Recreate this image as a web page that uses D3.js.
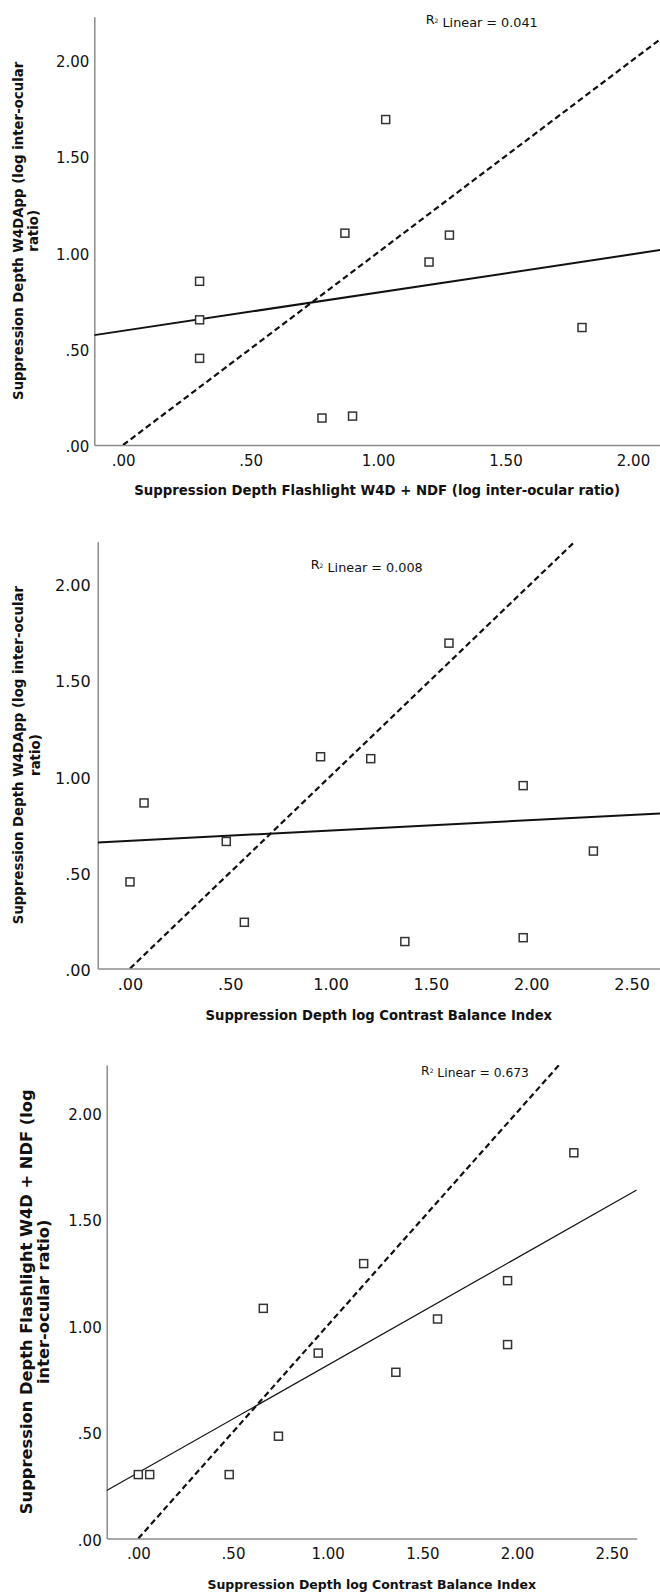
<!DOCTYPE html>
<html>
<head>
<meta charset="utf-8">
<script src="https://cdnjs.cloudflare.com/ajax/libs/d3/7.8.5/d3.min.js"></script>
<style>
body { margin: 0; background: #fff; }
svg { display: block; font-family: "DejaVu Sans", sans-serif; }
svg text { font-family: "DejaVu Sans", sans-serif; }
.axis path { stroke: #8c8c8c; stroke-width: 1.5; }
.axis text { fill: #111; }
.title { font-weight: bold; fill: #111; }
</style>
</head>
<body>
<div id="chart"></div>
<script>

// panel 1 : W4DApp vs Flashlight
var flashX = [1.03, 0.87, 1.28, 1.20, 1.80, 0.90, 0.30, 0.30, 0.30, 0.78];
var w4dY1  = [1.69, 1.10, 1.09, 0.95, 0.61, 0.15, 0.85, 0.65, 0.45, 0.14];

// panel 2 : W4DApp vs contrast balance index
var cbiX2  = [1.59, 1.20, 0.95, 0.07, 0.48, 0.00, 0.57, 1.96, 2.31, 1.37, 1.96];
var w4dY2  = [1.69, 1.09, 1.10, 0.86, 0.66, 0.45, 0.24, 0.95, 0.61, 0.14, 0.16];

// panel 3 : Flashlight vs contrast balance index
var cbiX3   = [2.30, 1.19, 1.95, 1.58, 0.66, 0.95, 0.74, 0.00, 0.06, 0.48, 1.36, 1.95];
var flashY3 = [1.81, 1.29, 1.21, 1.03, 1.08, 0.87, 0.48, 0.30, 0.30, 0.30, 0.78, 0.91];

// fit lines (intercept, slope) and R2 labels
var fitIntercept = [0.593, 0.663, 0.309];
var fitSlope     = [0.199, 0.054, 0.504];
var r2Values     = ["0.041", "0.008", "0.673"];

var xTicks1 = [0, 0.5, 1, 1.5, 2];
var xTicks2 = [0, 0.5, 1, 1.5, 2, 2.5];
var yTicks  = [0, 0.5, 1, 1.5, 2];

var xTitles = ["Suppression Depth Flashlight W4D + NDF (log inter-ocular ratio)",
               "Suppression Depth log Contrast Balance Index",
               "Suppression Depth log Contrast Balance Index"];
var yTitles = [["Suppression Depth W4DApp (log inter-ocular", "ratio)"],
               ["Suppression Depth W4DApp (log inter-ocular", "ratio)"],
               ["Suppression Depth Flashlight W4D + NDF (log", "inter-ocular ratio)"]];

// layout of each panel (pixels)
var panels = [
  {xs: flashX, ys: w4dY1, xTicks: xTicks1, left: 94.3, right: 660, top: 16.7, bottom: 445,
   xDom: [-0.113, 2.106], yMax: 2.224, tickSize: 15, xTitleSize: 13.3, yTitleSize: 13.3,
   xTitleY: 490, yTitleX: [18, 33], r2: [481.7, 20], r2Size: 12.8, fitWidth: 2, yPad: 5},
  {xs: cbiX2, ys: w4dY2, xTicks: xTicks2, left: 97.7, right: 660, top: 541.7, bottom: 968.5,
   xDom: [-0.161, 2.642], yMax: 2.217, tickSize: 16, xTitleSize: 13.2, yTitleSize: 13.3,
   xTitleY: 1015, yTitleX: [18, 35], r2: [366.7, 565], r2Size: 12.8, fitWidth: 2, yPad: 7},
  {xs: cbiX3, ys: flashY3, xTicks: xTicks2, left: 106.7, right: 636.7, top: 1065, bottom: 1538.5,
   xDom: [-0.167, 2.632], yMax: 2.222, tickSize: 15, xTitleSize: 12.5, yTitleSize: 16.3,
   xTitleY: 1585, yTitleX: [26, 43], r2: [475, 1070.7], r2Size: 12.3, fitWidth: 1.2, yPad: 5}
];

var svg = d3.select("#chart").append("svg")
    .attr("width", 660)
    .attr("height", 1593);

var fmt = function(d) { return d3.format(".2f")(d).replace(/^0\./, "."); };

panels.forEach(function(p, i) {
  var x = d3.scaleLinear().domain(p.xDom).range([p.left, p.right]);
  var y = d3.scaleLinear().domain([0, p.yMax]).range([p.bottom, p.top]);

  var g = svg.append("g");

  svg.append("clipPath").attr("id", "clip" + i)
    .append("rect")
      .attr("x", p.left).attr("y", p.top)
      .attr("width", p.right - p.left).attr("height", p.bottom - p.top);

  // axes (d3 sets a font-family attr on the axis group, drop it)
  g.append("g")
      .attr("class", "axis")
      .attr("transform", "translate(0," + p.bottom + ")")
      .call(d3.axisBottom(x).tickValues(p.xTicks).tickSize(0).tickPadding(10).tickFormat(fmt))
      .attr("font-family", null)
      .call(function(a) { a.selectAll("text").style("font-size", p.tickSize + "px"); });

  g.append("g")
      .attr("class", "axis")
      .attr("transform", "translate(" + p.left + ",0)")
      .call(d3.axisLeft(y).tickValues(yTicks).tickSize(0).tickPadding(p.yPad).tickFormat(fmt))
      .attr("font-family", null)
      .call(function(a) {
        a.selectAll("text").style("font-size", p.tickSize + "px").attr("dy", "0.45em");
      });

  var plot = g.append("g").attr("clip-path", "url(#clip" + i + ")");

  // reference line y = x
  plot.append("path")
      .datum([0, p.yMax])
      .attr("fill", "none")
      .attr("stroke", "#111")
      .attr("stroke-width", 2.2)
      .attr("stroke-dasharray", "6,3.5")
      .attr("d", d3.line().x(function(d) { return x(d); }).y(function(d) { return y(d); }));

  // fit line
  plot.append("path")
      .datum(p.xDom)
      .attr("fill", "none")
      .attr("stroke", "#111")
      .attr("stroke-width", p.fitWidth)
      .attr("d", d3.line()
        .x(function(d) { return x(d); })
        .y(function(d) { return y(fitIntercept[i] + fitSlope[i] * d); }));

  // points
  g.selectAll("rect.pt")
      .data(p.xs.map(function(v, k) { return [v, p.ys[k]]; }))
    .enter().append("rect")
      .attr("class", "pt")
      .attr("x", function(d) { return x(d[0]) - 4; })
      .attr("y", function(d) { return y(d[1]) - 4; })
      .attr("width", 8)
      .attr("height", 8)
      .attr("fill", "#fff")
      .attr("stroke", "#333")
      .attr("stroke-width", 1.5);

  // R2 label
  var r2 = g.append("text")
      .attr("x", p.r2[0])
      .attr("y", p.r2[1])
      .attr("dy", "0.35em")
      .attr("text-anchor", "middle")
      .style("font-size", p.r2Size + "px")
      .style("fill", "#111");
  r2.append("tspan").text("R");
  r2.append("tspan").attr("dy", "-0.3em").style("font-size", "6px").text("2");
  r2.append("tspan").attr("dy", "0.3em").text(" Linear = " + r2Values[i]);

  // axis titles
  g.append("text")
      .attr("class", "title")
      .attr("x", (p.left + p.right) / 2)
      .attr("y", p.xTitleY)
      .attr("dy", "0.35em")
      .attr("text-anchor", "middle")
      .style("font-size", p.xTitleSize + "px")
      .text(xTitles[i]);

  yTitles[i].forEach(function(line, k) {
    g.append("text")
        .attr("class", "title")
        .attr("transform", "translate(" + p.yTitleX[k] + "," + ((p.top + p.bottom) / 2) + ") rotate(-90)")
        .attr("dy", "0.35em")
        .attr("text-anchor", "middle")
        .style("font-size", p.yTitleSize + "px")
        .text(line);
  });
});

</script>
</body>
</html>
